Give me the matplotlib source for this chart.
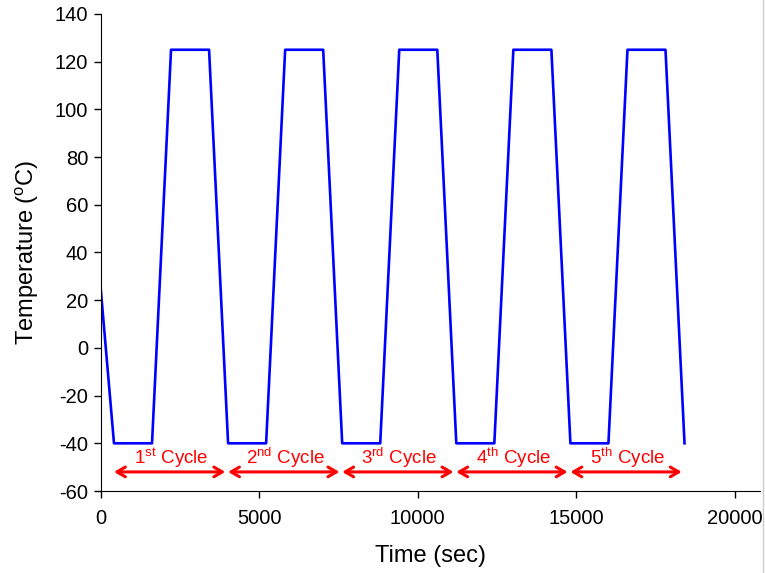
import matplotlib
matplotlib.use("Agg")
import matplotlib.pyplot as plt
from matplotlib.lines import Line2D

plt.rcParams['font.family'] = ['Liberation Sans', 'DejaVu Sans']
plt.rcParams['mathtext.default'] = 'regular'
plt.rcParams['axes.unicode_minus'] = False

# thermal cycle profile (time in sec, temperature in C)
time_s = [0, 420, 1620, 2220, 3420, 4020, 5220, 5820, 7020, 7620, 8820,
          9420, 10620, 11220, 12420, 13020, 14220, 14820, 16020, 16620,
          17820, 18420]
temp_c = [25, -40, -40, 125, 125, -40, -40, 125, 125, -40, -40,
          125, 125, -40, -40, 125, 125, -40, -40, 125, 125, -40]

# cycle annotations
cycle_start = [420, 4020, 7620, 11220, 14820]
cycle_end = [3930, 7530, 11130, 14730, 18330]
cycle_labels = ['1$^{st}$ Cycle', '2$^{nd}$ Cycle', '3$^{rd}$ Cycle',
                '4$^{th}$ Cycle', '5$^{th}$ Cycle']

fig = plt.figure(figsize=(7.65, 5.73), dpi=100)
ax = fig.add_axes([0.1316, 0.1431, 0.8618, 0.8325])

ax.plot(time_s, temp_c, color='#0000ff', lw=1.9)

for x0, x1, lab in zip(cycle_start, cycle_end, cycle_labels):
    ax.annotate('', xy=(x0, -52), xytext=(x1, -52),
                arrowprops=dict(arrowstyle='<->,head_length=0.6,head_width=0.35',
                                color='#ff0000', lw=2.2, shrinkA=0, shrinkB=0))
    ax.text((x0 + x1) / 2 + 40, -46.3, lab, color='#ff0000', fontsize=13.5,
            ha='center', va='center')

ax.set_xlim(0, 20800)
ax.set_ylim(-60, 140)
ax.set_xticks([0, 5000, 10000, 15000, 20000])
ax.set_yticks(range(-60, 141, 20))
ax.spines['top'].set_visible(False)
ax.spines['right'].set_visible(False)
ax.tick_params(direction='out', length=5, width=1, labelsize=14.5)
ax.tick_params(axis='x', pad=8)
ax.tick_params(axis='y', pad=4)
ax.set_xlabel('Time (sec)', fontsize=17, labelpad=12)
ax.set_ylabel('Temperature ($^o$C)', fontsize=17, labelpad=10)

# light frame edge on the right side
fig.add_artist(Line2D([0.997, 0.997], [0, 1], color='#cccccc', lw=1,
                      transform=fig.transFigure))

fig.savefig('out.png', dpi=100)
